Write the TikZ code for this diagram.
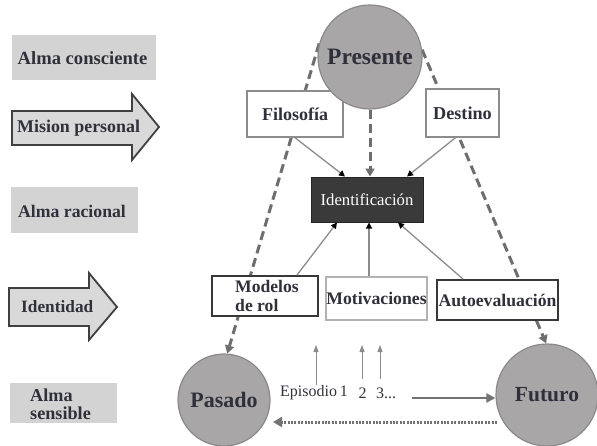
\documentclass[tikz,border=0pt]{standalone}
\usepackage{fontspec}
\setmainfont{Liberation Serif}
\usetikzlibrary{arrows.meta,calc}
\definecolor{txt}{HTML}{30303A}
\definecolor{leftgray}{HTML}{D3D3D3}
\definecolor{arrowfill}{HTML}{D9D9D9}
\definecolor{circfill}{HTML}{A8A6A6}
\definecolor{circborder}{HTML}{8A8888}
\definecolor{dashgray}{HTML}{6E6E6E}
\definecolor{feedgray}{HTML}{8C8C8C}
\definecolor{identfill}{HTML}{3A3A3A}
\newcommand{\fsz}[1]{\fontsize{#1}{#1}\selectfont}
\tikzset{
  lbox/.style={fill=leftgray, draw=none, inner sep=0pt},
  bigarrow/.style={fill=arrowfill, draw=black!75, line width=1.8pt, line join=miter},
  circ/.style={circle, fill=circfill, draw=circborder, line width=1.2pt, inner sep=0pt, font=\bfseries\fsz{22}},
  wbox/.style={rectangle, fill=white, inner sep=0pt},
  lightbox/.style={wbox, draw=feedgray, line width=1.4pt},
  darkbox/.style={wbox, draw=black!78, line width=1.9pt},
  paleboox/.style={wbox, draw=black!30, line width=1.4pt},
  dashline/.style={draw=dashgray, line width=3pt, dash pattern=on 9pt off 5pt, -{Triangle[width=9pt,length=8pt]}},
  feed/.style={draw=feedgray, line width=1.3pt, -{Triangle[width=6pt,length=6pt,color=black]}},
  episode/.style={draw=feedgray, line width=0.9pt, -{Triangle[width=5pt,length=7pt]}},
  eptext/.style={font=\fsz{16}, inner sep=0pt},
}
\begin{document}
\begin{tikzpicture}[x=1pt,y=-1pt, font=\bfseries\fontsize{18}{19}\selectfont, text=txt]
\useasboundingbox (0,0) rectangle (597,445);

% ---------- left column ----------
\node[lbox, minimum width=144pt, minimum height=45pt] (ac) at (84,57.5) {};
\node[inner sep=0pt, font=\bfseries\fsz{18.6}] (actext) at (82.5,58) {Alma consciente};
\fill[bigarrow] (12,111) -- (132,111) -- (132,94) -- (159,127) -- (132,160) -- (132,145) -- (12,145) -- cycle;
\node[anchor=west, inner sep=0pt, font=\bfseries\fsz{17.9}] (mision) at (17,128) {Mision personal};
\node[lbox, minimum width=127pt, minimum height=46pt] (ar) at (74.5,210) {};
\node[anchor=west, inner sep=0pt, font=\bfseries\fsz{17.7}] (artext) at (18,211) {Alma racional};
\fill[bigarrow] (9,288) -- (89,288) -- (89,273) -- (117,307) -- (89,340) -- (89,326) -- (9,326) -- cycle;
\node[anchor=west, inner sep=0pt, font=\bfseries\fsz{17.3}] (identidad) at (21,307) {Identidad};
\node[lbox, minimum width=107pt, minimum height=40pt] (as) at (63.5,403) {};
\node[anchor=west, inner sep=0pt, align=left, font=\bfseries\fontsize{18.2}{18}\selectfont] (astext) at (30,404) {Alma\\sensible};

% ---------- named points ----------
\coordinate (pres) at (370,57);
\coordinate (pas) at (224,400);
\coordinate (fut) at (547,395);

% ---------- circles (positions) ----------
\path (pres) node[circ, minimum size=104pt, draw=none, fill=none] (Presente) {};
\path (pas) node[circ, minimum size=92pt, draw=none, fill=none] (Pasado) {};
\path (fut) node[circ, minimum size=102pt, draw=none, fill=none] (Futuro) {};

% ---------- dashed time lines ----------
\draw[dashline] (Presente.165) -- (Pasado.86);
\draw[dashline] (Presente.8) -- (Futuro.91);

% ---------- boxes ----------
\node[lightbox, minimum width=96pt, minimum height=46pt, font=\bfseries\fsz{18}] (Filosofia) at (295,114) {Filosofía};
\node[lightbox, minimum width=73pt, minimum height=48pt, font=\bfseries\fsz{18.2}] (Destino) at (462.5,113) {Destino};
\node[rectangle, fill=identfill, draw=black!85, line width=1pt, minimum width=112pt, minimum height=45pt, inner sep=0pt, text=white, font=\fsz{16.7}] (Ident) at (367,199.5) {Identificación};
\node[darkbox, minimum width=106pt, minimum height=40pt, align=left, font=\bfseries\fontsize{17.6}{19}\selectfont] (Modelos) at (265,296) {\hspace*{4pt}Modelos\\\hspace*{4pt}de rol};
\node[paleboox, minimum width=101pt, minimum height=43pt, font=\bfseries\fsz{17.7}] (Motiv) at (376.5,298.5) {Motivaciones};
\node[darkbox, minimum width=121pt, minimum height=40pt, font=\bfseries\fsz{17.7}] (Auto) at (497.5,300) {Autoevaluación};

% ---------- circles drawn ----------
\node[circ, minimum size=104pt, font=\bfseries\fsz{23.5}] (PresenteC) at (pres) {Presente};
\node[circ, minimum size=92pt] (PasadoC) at (pas) {Pasado};
\node[circ, minimum size=102pt, font=\bfseries\fsz{21.5}] (FuturoC) at (fut) {Futuro};

% ---------- central arrows ----------
\draw[dashline] (PresenteC.south) -- (PresenteC.south |- Ident.north);
\draw[feed] (Filosofia.south) -- ($(Ident.north)+(-22,0)$);
\draw[feed] ($(Destino.south)+(-7,0)$) -- ($(Ident.north)+(40,0)$);
\draw[feed] ($(Modelos.north)+(32,0)$) -- ($(Ident.south)+(-30,0)$);
\draw[feed] ($(Motiv.north)+(-7.5,0)$) -- ($(Ident.south)+(2,0)$);
\draw[feed] ($(Auto.north)+(-34.5,0)$) -- ($(Ident.south)+(31,0)$);

% ---------- episodes ----------
\node[eptext, anchor=west] (ep1) at (280,393) {Episodio\,1};
\node[eptext] (ep2) at (362.5,393) {2};
\node[eptext, anchor=west] (ep3) at (376,393) {3...};
\coordinate (e1b) at (316,385); \coordinate (e1t) at (316,345);
\coordinate (e2b) at (362,379); \coordinate (e2t) at (362,345);
\coordinate (e3b) at (380,379); \coordinate (e3t) at (380,345);
\draw[episode] (e1b) -- (e1t);
\draw[episode] (e2b) -- (e2t);
\draw[episode] (e3b) -- (e3t);

\coordinate (fwdstart) at (412,398);
\draw[draw=black!55, line width=2.6pt, -{Triangle[width=9pt,length=9pt]}] (fwdstart) -- (FuturoC.west |- fwdstart);
\coordinate (backstart) at (497,422);
\coordinate (backend) at (273,422);
\draw[draw=black!55, line width=3pt, dash pattern=on 2pt off 1.4pt, -{Triangle[width=10pt,length=9pt]}] (backstart) -- (backend);
\end{tikzpicture}
\end{document}
